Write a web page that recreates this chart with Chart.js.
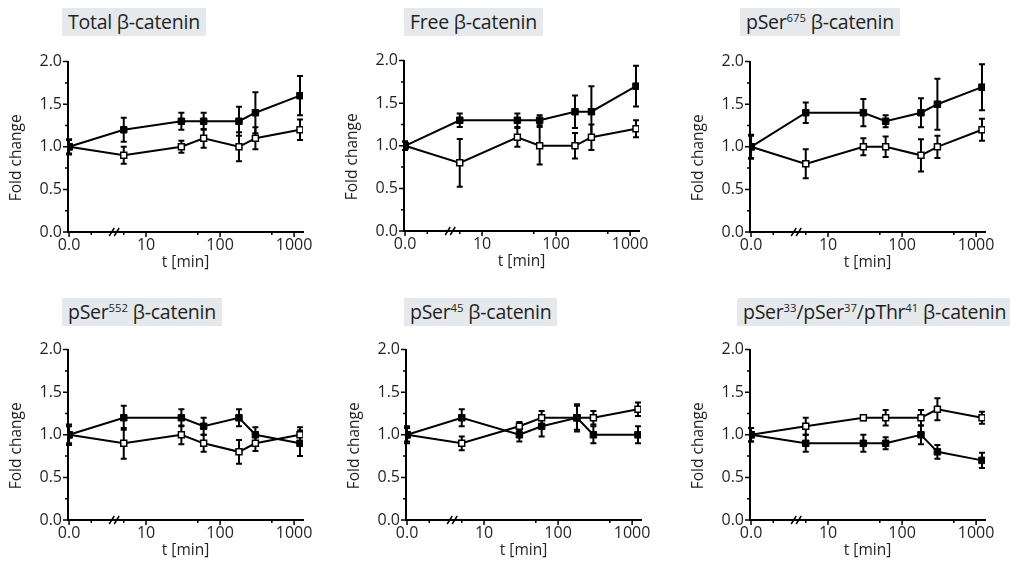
<!DOCTYPE html>
<html><head><meta charset="utf-8">
<script src="https://cdn.jsdelivr.net/npm/chart.js@4"></script>
<style>
body{margin:0;width:1010px;height:564px;overflow:hidden;background:#fff;font-family:"Open Sans",sans-serif;position:relative}
.title{position:absolute;background:#e5e9ec;height:28px;line-height:28px;padding:0 6px;font-size:19.5px;letter-spacing:-0.25px;color:#231f20;white-space:nowrap}
.title sup{font-size:0.58em;line-height:0;vertical-align:0.6em;letter-spacing:0}
canvas{position:absolute}
</style></head><body>
<div class="title" style="left:62px;top:8px">Total β-catenin</div>
<div class="title" style="left:404px;top:8px">Free β-catenin</div>
<div class="title" style="left:740px;top:8px">pSer<sup>675</sup> β-catenin</div>
<div class="title" style="left:62px;top:298px">pSer<sup>552</sup> β-catenin</div>
<div class="title" style="left:404px;top:298px">pSer<sup>45</sup> β-catenin</div>
<div class="title" style="left:737px;top:298px">pSer<sup>33</sup>/pSer<sup>37</sup>/pThr<sup>41</sup> β-catenin</div>
<canvas id="c1" width="328" height="231" style="left:0px;top:46px"></canvas>
<canvas id="c2" width="328" height="231" style="left:336px;top:45px"></canvas>
<canvas id="c3" width="328" height="231" style="left:682px;top:46px"></canvas>
<canvas id="c4" width="328" height="231" style="left:0px;top:334px"></canvas>
<canvas id="c5" width="328" height="231" style="left:338px;top:334px"></canvas>
<canvas id="c6" width="328" height="231" style="left:682px;top:334px"></canvas>
<script>
// time points (min)
const times = [0, 5, 30, 60, 180, 300, 1200];
// axis ticks
const xTickTimes = [0, 10, 100, 1000];
const xTickLabels = ['0.0', '10', '100', '1000'];
const xMinorTimes = [5, 50, 500];
const yTickValues = [0, 0.5, 1, 1.5, 2];
const yMinorValues = [0.25, 0.75, 1.25, 1.75];

// Total β-catenin
const totalFilled = [1.0, 1.2, 1.3, 1.3, 1.3, 1.4, 1.6];
const totalFilledErr = [0.09, 0.14, 0.1, 0.1, 0.17, 0.24, 0.23];
const totalOpen = [1.0, 0.9, 1.0, 1.1, 1.0, 1.1, 1.2];
const totalOpenErr = [0.08, 0.1, 0.07, 0.11, 0.17, 0.13, 0.12];
// Free β-catenin
const freeFilled = [1.0, 1.3, 1.3, 1.3, 1.4, 1.4, 1.7];
const freeFilledErr = [0.05, 0.08, 0.08, 0.06, 0.19, 0.3, 0.24];
const freeOpen = [1.0, 0.8, 1.1, 1.0, 1.0, 1.1, 1.2];
const freeOpenErr = [0.05, 0.28, 0.11, 0.22, 0.15, 0.15, 0.1];
// pSer675
const s675Filled = [1.0, 1.4, 1.4, 1.3, 1.4, 1.5, 1.7];
const s675FilledErr = [0.14, 0.12, 0.16, 0.07, 0.17, 0.3, 0.27];
const s675Open = [1.0, 0.8, 1.0, 1.0, 0.9, 1.0, 1.2];
const s675OpenErr = [0.13, 0.17, 0.1, 0.12, 0.19, 0.13, 0.13];
// pSer552
const s552Filled = [1.0, 1.2, 1.2, 1.1, 1.2, 1.0, 0.9];
const s552FilledErr = [0.12, 0.14, 0.1, 0.1, 0.1, 0.09, 0.15];
const s552Open = [1.0, 0.9, 1.0, 0.9, 0.8, 0.9, 1.0];
const s552OpenErr = [0.1, 0.18, 0.11, 0.1, 0.14, 0.09, 0.09];
// pSer45
const s45Filled = [1.0, 1.2, 1.0, 1.1, 1.2, 1.0, 1.0];
const s45FilledErr = [0.1, 0.1, 0.08, 0.12, 0.16, 0.1, 0.1];
const s45Open = [1.0, 0.9, 1.1, 1.2, 1.2, 1.2, 1.3];
const s45OpenErr = [0.08, 0.08, 0.05, 0.08, 0.14, 0.08, 0.08];
// pSer33/pSer37/pThr41
const s33Filled = [1.0, 0.9, 0.9, 0.9, 1.0, 0.8, 0.7];
const s33FilledErr = [0.08, 0.1, 0.1, 0.07, 0.11, 0.08, 0.09];
const s33Open = [1.0, 1.1, 1.2, 1.2, 1.2, 1.3, 1.2];
const s33OpenErr = [0.08, 0.1, 0.03, 0.09, 0.09, 0.13, 0.07];

// broken axis: t=0 placed left of the log decades
const ZERO_POS = -0.04, X_MIN = -0.054, X_MAX = 3.12, BREAK_POS = 0.57, ZERO_MINOR_POS = 0.26;
function pos(t) { return t === 0 ? ZERO_POS : Math.log10(t); }

const FONT = '"Open Sans", sans-serif';
const INK = '#231f20';
const TICK_SIZE = 16, LABEL_SIZE = 15.5;

const decor = {
  id: 'decor',
  beforeDatasetsDraw(chart) {
    const ctx = chart.ctx, xs = chart.scales.x, ys = chart.scales.y;
    ctx.save();
    ctx.strokeStyle = '#000'; ctx.lineWidth = 2; ctx.lineCap = 'butt';
    chart.data.datasets.forEach(ds => {
      ds.data.forEach((p, i) => {
        const e = ds.err[i];
        const x = xs.getPixelForValue(p.x);
        const y1 = ys.getPixelForValue(p.y + e), y2 = ys.getPixelForValue(p.y - e);
        ctx.beginPath();
        ctx.moveTo(x, y1); ctx.lineTo(x, y2);
        ctx.moveTo(x - 3, y1); ctx.lineTo(x + 3, y1);
        ctx.moveTo(x - 3, y2); ctx.lineTo(x + 3, y2);
        ctx.stroke();
      });
    });
    ctx.restore();
  },
  afterDraw(chart) {
    const ctx = chart.ctx, xs = chart.scales.x, ys = chart.scales.y;
    const ax = chart.chartArea.left, by = chart.chartArea.bottom;
    ctx.save();
    ctx.strokeStyle = '#000'; ctx.lineWidth = 1.5;
    ctx.beginPath();
    yTickValues.forEach(v => { const y = ys.getPixelForValue(v); ctx.moveTo(ax - 5, y); ctx.lineTo(ax, y); });
    yMinorValues.forEach(v => { const y = ys.getPixelForValue(v); ctx.moveTo(ax - 3, y); ctx.lineTo(ax, y); });
    xTickTimes.forEach(t => { const x = xs.getPixelForValue(pos(t)); ctx.moveTo(x, by); ctx.lineTo(x, by + 5); });
    xMinorTimes.forEach(t => { const x = xs.getPixelForValue(pos(t)); ctx.moveTo(x, by); ctx.lineTo(x, by + 3); });
    { const x = xs.getPixelForValue(ZERO_MINOR_POS); ctx.moveTo(x, by); ctx.lineTo(x, by + 3); }
    ctx.stroke();
    // axis break
    const bx = xs.getPixelForValue(BREAK_POS);
    ctx.lineWidth = 1.5;
    ctx.beginPath();
    [-2.5, 2.5].forEach(d => { ctx.moveTo(bx + d - 2.5, by + 4); ctx.lineTo(bx + d + 2.5, by - 4); });
    ctx.stroke();
    // y title
    ctx.fillStyle = INK;
    ctx.font = LABEL_SIZE + 'px ' + FONT;
    ctx.translate(17, (chart.chartArea.top + chart.chartArea.bottom) / 2 + 11);
    ctx.rotate(-Math.PI / 2);
    ctx.textAlign = 'center'; ctx.textBaseline = 'middle';
    ctx.fillText('Fold change', 0, 0);
    ctx.restore();
  }
};

function makeChart(id, filled, filledErr, open, openErr) {
  new Chart(document.getElementById(id), {
    type: 'line',
    data: {
      datasets: [
        { label: 'filled', data: times.map((t, i) => ({ x: pos(t), y: filled[i] })), err: filledErr,
          borderColor: '#000', borderWidth: 2, pointStyle: 'rect', pointRadius: 4.6,
          pointBackgroundColor: '#000', pointBorderColor: '#000', pointBorderWidth: 1 },
        { label: 'open', data: times.map((t, i) => ({ x: pos(t), y: open[i] })), err: openErr,
          borderColor: '#000', borderWidth: 2, pointStyle: 'rect', pointRadius: 4.2,
          pointBackgroundColor: '#fff', pointBorderColor: '#000', pointBorderWidth: 1.5 }
      ]
    },
    options: {
      responsive: false, animation: false, events: [],
      layout: { padding: { top: 12, right: 25, left: 0, bottom: 0 } },
      plugins: { legend: { display: false }, tooltip: { enabled: false } },
      scales: {
        x: {
          type: 'linear', min: X_MIN, max: X_MAX,
          afterBuildTicks: s => { s.ticks = xTickTimes.map(t => ({ value: pos(t) })); },
          ticks: { callback: (v, i) => xTickLabels[i], padding: 4, autoSkip: false, maxRotation: 0,
                   font: { size: TICK_SIZE, family: FONT }, color: INK },
          grid: { display: false, drawTicks: false },
          border: { color: '#000', width: 2 },
          title: { display: true, text: 't [min]', color: INK, font: { size: LABEL_SIZE, family: FONT }, padding: { top: 0, bottom: 5 } },
          afterFit: s => { s.height = 45; }
        },
        y: {
          min: 0, max: 2,
          afterBuildTicks: s => { s.ticks = yTickValues.map(v => ({ value: v })); },
          ticks: { callback: v => v.toFixed(1), padding: 6, font: { size: TICK_SIZE, family: FONT }, color: INK },
          grid: { display: false, drawTicks: false },
          border: { color: '#000', width: 2 },
          afterFit: s => { s.width = 68; }
        }
      }
    },
    plugins: [decor]
  });
}

makeChart('c1', totalFilled, totalFilledErr, totalOpen, totalOpenErr);
makeChart('c2', freeFilled, freeFilledErr, freeOpen, freeOpenErr);
makeChart('c3', s675Filled, s675FilledErr, s675Open, s675OpenErr);
makeChart('c4', s552Filled, s552FilledErr, s552Open, s552OpenErr);
makeChart('c5', s45Filled, s45FilledErr, s45Open, s45OpenErr);
makeChart('c6', s33Filled, s33FilledErr, s33Open, s33OpenErr);
</script>
</body></html>
